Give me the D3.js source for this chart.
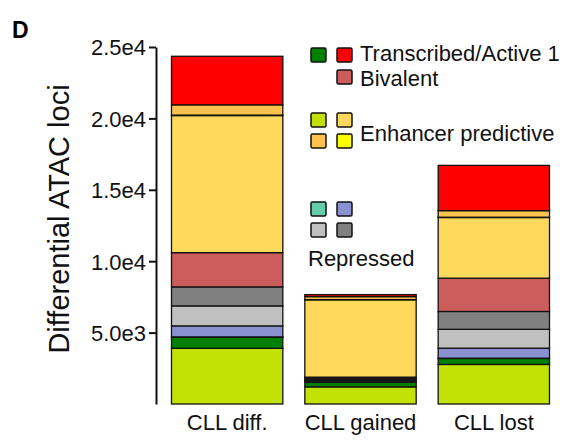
<!DOCTYPE html>
<html>
<head>
<meta charset="utf-8">
<script src="https://cdn.jsdelivr.net/npm/d3@7"></script>
<style>
  body { margin: 0; background: #fff; }
  svg { font-family: "Liberation Sans", Arial, Helvetica, sans-serif; }
</style>
</head>
<body>
<svg id="chart" width="575" height="440"></svg>
<script>
// categories on the x axis
const categories = ['CLL diff.', 'CLL gained', 'CLL lost']

// chromatin states, stacked bottom to top
const states = ['EnhG', 'Tx', 'ZNF', 'Het', 'ReprPCWk', 'ReprPC', 'TssBiv', 'Enh', 'EnhWk', 'EnhA', 'TssA']
const stateColors = ['#c2e105', '#008000', '#66cdaa', '#8a91d0', '#c0c0c0', '#808080', '#cd5c5c', '#ffd95c', '#ffff00', '#ffc34d', '#ff0000']

// counts per state, one array per category (same order as states)
const cllDiff = [3900, 770, 30, 770, 1400, 1330, 2400, 9600, 30, 720, 3400]
const cllGained = [1200, 330, 10, 100, 100, 100, 40, 5420, 10, 210, 140]
const cllLost = [2770, 420, 20, 700, 1320, 1250, 2330, 4250, 20, 460, 3170]

const yTicks = [5000, 10000, 15000, 20000, 25000]
const yTickLabels = ['5.0e3', '1.0e4', '1.5e4', '2.0e4', '2.5e4']

// legend groups
const legendGroups = [
  { label: 'Transcribed/Active 1', cells: [['Tx', 0, 0], ['TssA', 1, 0]], text: [360, 61], top: 48 },
  { label: 'Bivalent', cells: [['TssBiv', 1, 0]], text: [360, 86], top: 70 },
  { label: 'Enhancer predictive', cells: [['EnhG', 0, 0], ['Enh', 1, 0], ['EnhA', 0, 1], ['EnhWk', 1, 1]], text: [360, 141], top: 113 },
  { label: 'Repressed', cells: [['ZNF', 0, 0], ['Het', 1, 0], ['ReprPCWk', 0, 1], ['ReprPC', 1, 1]], text: [308, 266], top: 202 }
]

const svg = d3.select('#chart')
const color = d3.scaleOrdinal().domain(states).range(stateColors)

const x = d3.scaleBand().domain(categories).range([160.5, 560.5]).paddingInner(0.165).paddingOuter(0.0825)
const y = d3.scaleLinear().domain([0, 25000]).range([404, 47])

const table = categories.map((c, i) => {
  const vals = [cllDiff, cllGained, cllLost][i]
  const row = { cat: c }
  states.forEach((s, j) => { row[s] = vals[j] })
  return row
})
const series = d3.stack().keys(states)(table)

// bars
svg.append('g').selectAll('g')
  .data(series)
  .join('g')
  .attr('fill', d => color(d.key))
  .selectAll('rect')
  .data(d => d)
  .join('rect')
  .attr('x', d => x(d.data.cat))
  .attr('width', x.bandwidth())
  .attr('y', d => y(d[1]))
  .attr('height', d => y(d[0]) - y(d[1]))
  .attr('stroke', '#111')
  .attr('stroke-width', 1.3)

// y axis
const yAxis = svg.append('g')
  .attr('transform', 'translate(156,0)')
  .call(d3.axisLeft(y).tickValues(yTicks).tickFormat((d, i) => yTickLabels[i]).tickSize(7).tickSizeOuter(0))
yAxis.select('.domain').attr('stroke', '#111').attr('stroke-width', 2)
yAxis.selectAll('.tick line').attr('stroke', '#111').attr('stroke-width', 2)
yAxis.selectAll('.tick text').attr('font-size', 22).attr('fill', '#111').attr('x', -10).attr('dy', '0.36em')
  .style('font-family', '"Liberation Sans", Arial, sans-serif')

// y title
svg.append('text')
  .attr('transform', 'translate(69,219) rotate(-90)')
  .attr('text-anchor', 'middle')
  .attr('font-size', 29)
  .attr('fill', '#111')
  .text('Differential ATAC loci')

// x labels
svg.append('g').selectAll('text')
  .data(categories)
  .join('text')
  .attr('x', d => x(d) + x.bandwidth() / 2)
  .attr('y', 430)
  .attr('text-anchor', 'middle')
  .attr('font-size', 22)
  .attr('fill', '#111')
  .text(d => d)

// panel letter
svg.append('text').attr('x', 12).attr('y', 38).attr('font-size', 23).attr('font-weight', 'bold').text('D')

// legend
const lg = svg.append('g')
legendGroups.forEach(g => {
  g.cells.forEach(([s, col, row]) => {
    lg.append('rect')
      .attr('x', 311 + col * 26)
      .attr('y', g.top + row * 21)
      .attr('width', 15).attr('height', 14)
      .attr('rx', 1.5)
      .attr('fill', color(s))
      .attr('stroke', '#111')
      .attr('stroke-width', 1.5)
  })
  lg.append('text')
    .attr('x', g.text[0]).attr('y', g.text[1])
    .attr('font-size', 22)
    .attr('fill', '#111')
    .text(g.label)
})
</script>
</body>
</html>
